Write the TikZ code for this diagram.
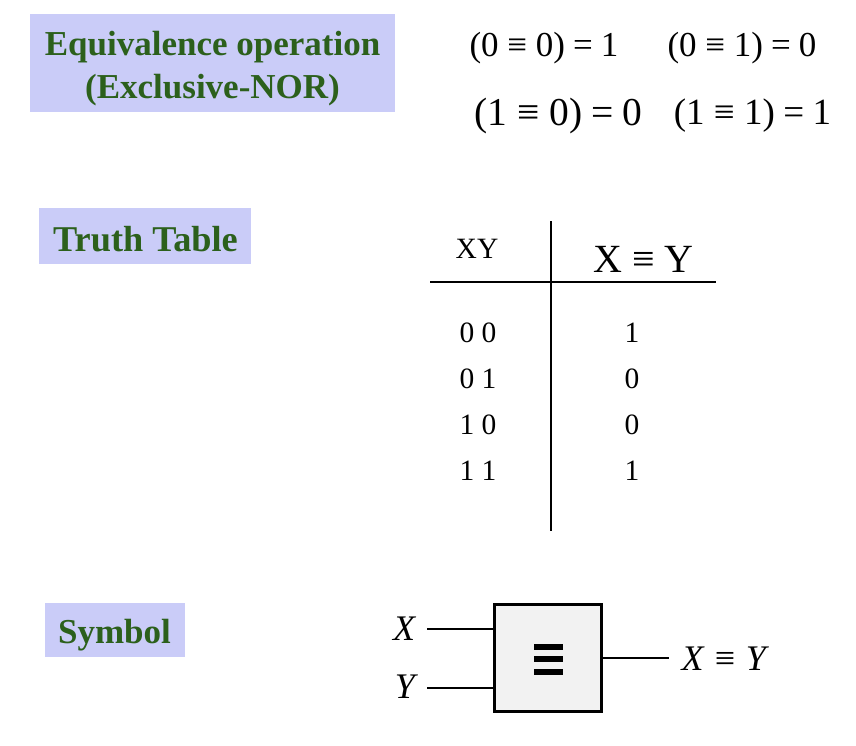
\documentclass[tikz,border=0pt]{standalone}
\usepackage{fontspec}
\setmainfont{Liberation Serif}
\usepackage{tikz}
\usetikzlibrary{positioning}
\definecolor{lbl}{RGB}{202,204,248}
\definecolor{grn}{RGB}{44,96,28}
\tikzset{hdbox/.append style={fill=lbl,inner sep=0pt}}
\tikzset{hd/.append style={text=grn,font=\fontsize{35}{43}\selectfont\bfseries,align=center,inner sep=0pt}}
\tikzset{eqa/.append style={font=\fontsize{35}{40}\selectfont,inner sep=0pt}}
\tikzset{eqb/.append style={font=\fontsize{39.5}{44}\selectfont,inner sep=0pt}}
\tikzset{tb/.append style={font=\fontsize{29.5}{34}\selectfont,inner sep=0pt}}
\tikzset{sy/.append style={font=\fontsize{36}{40}\selectfont\itshape,inner sep=0pt}}
\newcommand{\eqv}{\kern.25em ≡\kern.25em}
\newcommand{\eqs}{\kern.23em=\kern.23em}
\begin{document}
\begin{tikzpicture}[x=1pt,y=-1pt,line width=1.2pt]
    \useasboundingbox (0,0) rectangle (856,746);
    % headings
    \node[hdbox,minimum width=365,minimum height=98] (eqbg) at (212.5,63) {};
    \node[hdbox,minimum width=212,minimum height=56] (ttbg) at (145,236) {};
    \node[hdbox,minimum width=140,minimum height=54] (smbg) at (115,630) {};
    \node[hd] (eq) at (212.5,69) {Equivalence operation\\(Exclusive-NOR)};
    \node[hd,font=\fontsize{36.3}{43}\selectfont\bfseries] (tt) at (145.5,239) {Truth Table};
    \node[hd] (sm) at (114.5,635) {Symbol};
    % equations
    \node[eqa] (e1) at (544,48) {(0\eqv0)\eqs1};
    \node[eqa] (e2) at (742,48) {(0\eqv1)\eqs0};
    \node[eqb] (e3) at (558.5,116) {(1\eqv0)\eqs0};
    \node[eqb,font=\fontsize{37}{44}\selectfont] (e4) at (752.5,116) {(1\eqv1)\eqs1};
    % table
    \coordinate (vt) at (551,221);
    \coordinate (vb) at (551,531);
    \coordinate (hl) at (430,282);
    \coordinate (hr) at (716,282);
    \draw (vt) -- (vb);
    \draw (hl) -- (hr);
    \node[tb] (xy) at (477,249) {XY};
    \node[font=\fontsize{40}{46}\selectfont,inner sep=0pt] (xey) at (643.5,259) {X\eqv Y};
    \node[tb] (r1) at (478,333) {0 0};
    \node[tb] (r2) at (478,379) {0 1};
    \node[tb] (r3) at (478,425) {1 0};
    \node[tb] (r4) at (478,471) {1 1};
    \node[tb] (v1) at (632,333) {1};
    \node[tb] (v2) at (632,379) {0};
    \node[tb] (v3) at (632,425) {0};
    \node[tb] (v4) at (632,471) {1};
    % symbol
    \node[draw,line width=3.5pt,fill=black!5,minimum width=107,minimum height=107,inner sep=0pt] (gt) at (548,658) {};
    \foreach \yy in {-12.5,0,12.5} \fill ([xshift=-14.5,yshift=\yy-3-1]gt.center) rectangle ([xshift=14.5,yshift=\yy+3-1]gt.center);
    \node[sy] (x) at (404,629) {X};
    \node[sy] (y) at (405,687) {Y};
    \node[sy,anchor=west] (o) at (681,659) {X\eqv Y};
    \coordinate (xs) at (427,629);
    \coordinate (ys) at (427,688);
    \coordinate (os) at (669,658);
    \draw[line width=2pt] (xs) -- (xs -| gt.west);
    \draw[line width=2pt] (ys) -- (ys -| gt.west);
    \draw[line width=2pt] (gt.east |- os) -- (os);
\end{tikzpicture}
\end{document}
